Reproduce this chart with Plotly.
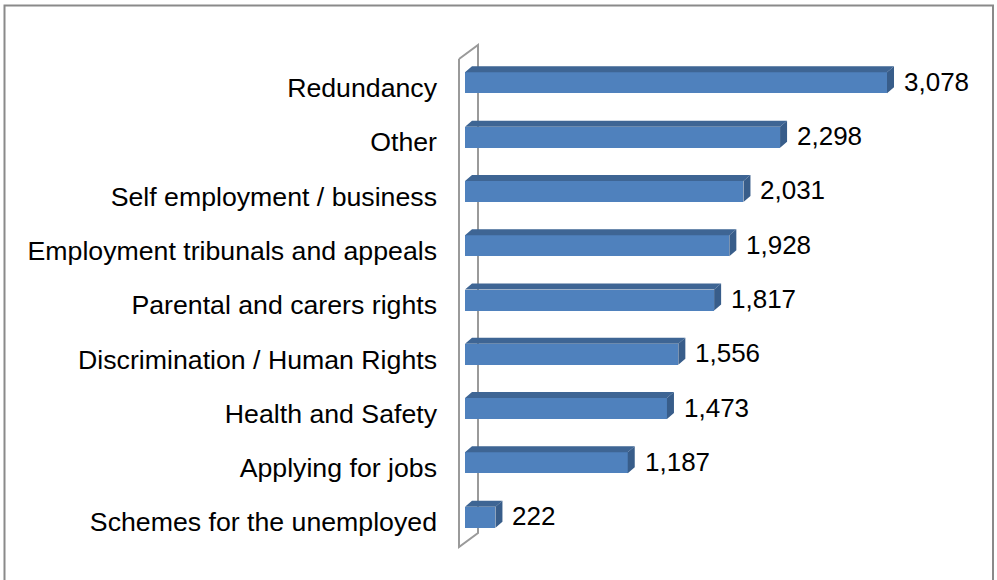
import plotly.graph_objects as go

categories = ["Redundancy", "Other", "Self employment / business",
              "Employment tribunals and appeals", "Parental and carers rights",
              "Discrimination / Human Rights", "Health and Safety",
              "Applying for jobs", "Schemes for the unemployed"]
values = [3078, 2298, 2031, 1928, 1817, 1556, 1473, 1187, 222]

W, H = 997, 580
ML, MR, MT, MB = 465, 11, 34, 14
XMAX = 3800
YMIN, YMAX = -0.9, 8.9
PW = W - ML - MR
PH = H - MT - MB
px_per_x = PW / XMAX
px_per_y = PH / (YMAX - YMIN)

BAR_W = 0.387
DX = 7 / px_per_x     # depth offset in x data units
DY = 6 / px_per_y     # depth offset in y data units (upwards = smaller y)

FRONT = "#4F81BD"
TOP = "#3E6594"
SIDE = "#385D8A"
FONT = "Liberation Sans, Arial, sans-serif"

ys = list(range(len(categories)))

# top and side faces built from the values
top_x, top_y, side_x, side_y = [], [], [], []
for y, v in zip(ys, values):
    t = y - BAR_W / 2
    b = y + BAR_W / 2
    top_x += [0, v, v + DX, DX, 0, None]
    top_y += [t, t, t - DY, t - DY, t, None]
    side_x += [v, v, v + DX, v + DX, v, None]
    side_y += [t, b, b - DY, t - DY, t, None]

fig = go.Figure()
fig.add_trace(go.Bar(x=values, y=ys, orientation="h", width=BAR_W,
                     marker=dict(color=FRONT, line=dict(width=0)),
                     hoverinfo="skip"))
fig.add_trace(go.Scatter(x=top_x, y=top_y, mode="lines", fill="toself",
                         fillcolor=TOP, line=dict(width=0, color=TOP),
                         hoverinfo="skip"))
fig.add_trace(go.Scatter(x=side_x, y=side_y, mode="lines", fill="toself",
                         fillcolor=SIDE, line=dict(width=0, color=SIDE),
                         hoverinfo="skip"))

for y, v in zip(ys, values):
    fig.add_annotation(x=v, y=y, xref="x", yref="y", text=f"{v:,}",
                       showarrow=False, xanchor="left", yanchor="middle",
                       xshift=15, yshift=1,
                       font=dict(family=FONT, size=26, color="black"))


def px_to_paper(X, Y):
    return (X - ML) / PW, (H - MB - Y) / PH


# 3D wall outline
wall_pts = [(459, 59), (478, 45), (478, 533), (459, 547), (459, 59)]
path = ""
for i, (X, Y) in enumerate(wall_pts):
    px, py = px_to_paper(X, Y)
    path += ("M" if i == 0 else "L") + f"{px:.5f},{py:.5f} "
fig.add_shape(type="path", path=path, xref="paper", yref="paper",
              line=dict(color="#9A9A9A", width=2), layer="below")

# chart border
x0, y0 = px_to_paper(4.5, 5.5)
x1, y1 = px_to_paper(993, 600)
fig.add_shape(type="rect", x0=x0, y0=y1, x1=x1, y1=y0, xref="paper", yref="paper",
              line=dict(color="#8A8A8A", width=2), layer="below")

fig.update_layout(
    width=W, height=H,
    margin=dict(l=ML, r=MR, t=MT, b=MB, pad=0),
    paper_bgcolor="white", plot_bgcolor="white",
    showlegend=False, bargap=0,
    xaxis=dict(range=[0, XMAX], showgrid=False, zeroline=False,
               showticklabels=False, showline=False, fixedrange=True),
    yaxis=dict(range=[YMAX, YMIN], tickmode="array", tickvals=ys,
               ticktext=categories, showgrid=False, zeroline=False,
               showline=False, ticks="", ticklabelstandoff=27,
               ticklabelshift=-5,
               tickfont=dict(family=FONT, size=26.7, color="black")),
)

fig.write_html("out.html")
